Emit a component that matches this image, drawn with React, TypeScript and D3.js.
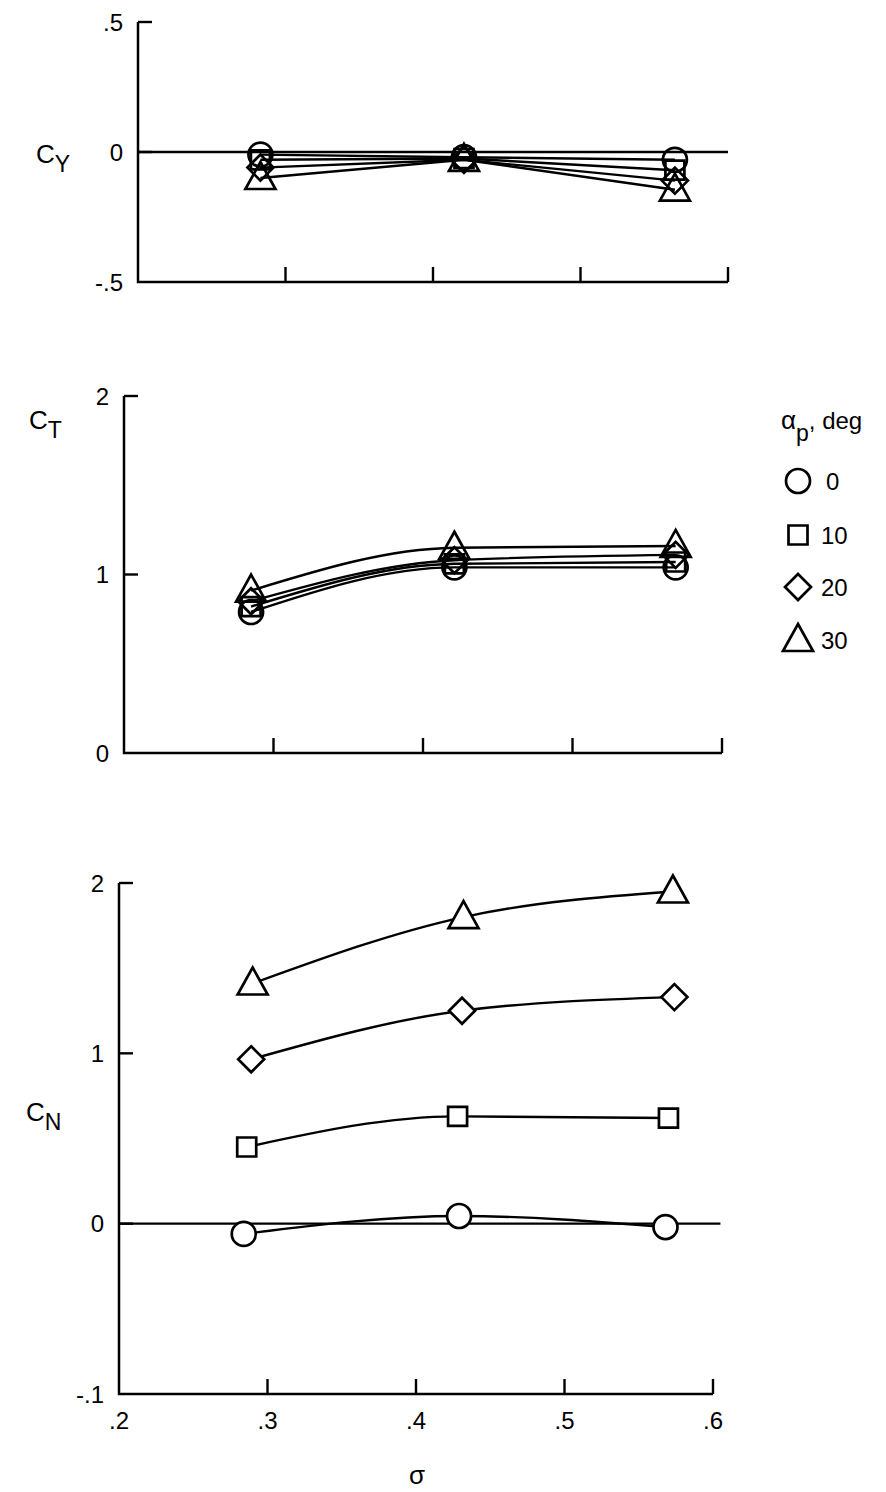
import React from 'react';
import * as d3 from 'd3';

// ---------- data ----------
const seriesLabels = ['0', '10', '20', '30'];
const seriesKinds = ['circle', 'square', 'diamond', 'triangle'];

const xTickValues = [0.2, 0.3, 0.4, 0.5, 0.6];
const xTickLabels = ['.2', '.3', '.4', '.5', '.6'];

// C_Y panel
const sigmaCY = [0.283, 0.421, 0.564];
const cyCircle = [-0.01, -0.02, -0.03];
const cySquare = [-0.03, -0.025, -0.07];
const cyDiamond = [-0.06, -0.03, -0.11];
const cyTriangle = [-0.1, -0.03, -0.145];
const cyTickValues = [-0.5, 0, 0.5];
const cyTickLabels = ['-.5', '0', '.5'];

// C_T panel
const sigmaCT = [0.285, 0.421, 0.569];
const ctCircle = [0.79, 1.04, 1.04];
const ctSquare = [0.82, 1.06, 1.07];
const ctDiamond = [0.85, 1.08, 1.11];
const ctTriangle = [0.91, 1.15, 1.16];
const ctTickValues = [0, 1, 2];
const ctTickLabels = ['0', '1', '2'];

// C_N panel
const sigmaCNCircle = [0.284, 0.429, 0.568];
const sigmaCNSquare = [0.286, 0.428, 0.57];
const sigmaCNDiamond = [0.289, 0.431, 0.574];
const sigmaCNTriangle = [0.29, 0.432, 0.573];
const cnCircle = [-0.06, 0.045, -0.02];
const cnSquare = [0.45, 0.63, 0.62];
const cnDiamond = [0.965, 1.25, 1.33];
const cnTriangle = [1.41, 1.8, 1.95];
const cnTickValues = [-1, 0, 1, 2];
const cnTickLabels = ['-.1', '0', '1', '2'];

// ---------- helpers ----------
const FONT = 'Liberation Sans, Arial, Helvetica, sans-serif';

function markerPath(kind: string, cx: number, cy: number): string {
  const p = d3.path();
  if (kind === 'circle') {
    const r = 12;
    p.moveTo(cx + r, cy);
    p.arc(cx, cy, r, 0, Math.PI * 2);
  } else if (kind === 'square') {
    const h = 9.5;
    p.rect(cx - h, cy - h, 2 * h, 2 * h);
  } else if (kind === 'diamond') {
    const h = 13;
    p.moveTo(cx, cy - h);
    p.lineTo(cx + h, cy);
    p.lineTo(cx, cy + h);
    p.lineTo(cx - h, cy);
    p.closePath();
  } else {
    const w = 15;
    const hTop = 16;
    const hBot = 11;
    p.moveTo(cx, cy - hTop);
    p.lineTo(cx + w, cy + hBot);
    p.lineTo(cx - w, cy + hBot);
    p.closePath();
  }
  return p.toString();
}

interface Series { sigma: number[]; values: number[]; kind: string }
interface Panel {
  key: string;
  yDomain: [number, number];
  yRange: [number, number];
  xRange: [number, number];
  yTicks: number[];
  yLabels: string[];
  showXLabels: boolean;
  curve: d3.CurveFactory;
  fill: string;
  zeroEnd: number;
  series: Series[];
}

const panels: Panel[] = [
  {
    key: 'CY', yDomain: [-0.5, 0.5], yRange: [282, 22], xRange: [138, 728],
    yTicks: cyTickValues, yLabels: cyTickLabels, showXLabels: false,
    curve: d3.curveLinear, fill: 'none', zeroEnd: 0.6,
    series: [
      { sigma: sigmaCY, values: cyCircle, kind: seriesKinds[0] },
      { sigma: sigmaCY, values: cySquare, kind: seriesKinds[1] },
      { sigma: sigmaCY, values: cyDiamond, kind: seriesKinds[2] },
      { sigma: sigmaCY, values: cyTriangle, kind: seriesKinds[3] },
    ],
  },
  {
    key: 'CT', yDomain: [0, 2], yRange: [753, 396], xRange: [124, 722],
    yTicks: ctTickValues, yLabels: ctTickLabels, showXLabels: false,
    curve: d3.curveMonotoneX, fill: 'none', zeroEnd: NaN,
    series: [
      { sigma: sigmaCT, values: ctCircle, kind: seriesKinds[0] },
      { sigma: sigmaCT, values: ctSquare, kind: seriesKinds[1] },
      { sigma: sigmaCT, values: ctDiamond, kind: seriesKinds[2] },
      { sigma: sigmaCT, values: ctTriangle, kind: seriesKinds[3] },
    ],
  },
  {
    key: 'CN', yDomain: [-1, 2], yRange: [1394, 883], xRange: [119, 713],
    yTicks: cnTickValues, yLabels: cnTickLabels, showXLabels: true,
    curve: d3.curveMonotoneX, fill: 'white', zeroEnd: 0.605,
    series: [
      { sigma: sigmaCNCircle, values: cnCircle, kind: seriesKinds[0] },
      { sigma: sigmaCNSquare, values: cnSquare, kind: seriesKinds[1] },
      { sigma: sigmaCNDiamond, values: cnDiamond, kind: seriesKinds[2] },
      { sigma: sigmaCNTriangle, values: cnTriangle, kind: seriesKinds[3] },
    ],
  },
];

function PanelView({ panel }: { panel: Panel }) {
  const x = d3.scaleLinear().domain([0.2, 0.6]).range(panel.xRange);
  const y = d3.scaleLinear().domain(panel.yDomain).range(panel.yRange);
  const x0 = x(0.2);
  const xEnd = x(0.6);
  const yBot = y(panel.yDomain[0]);
  const yTop = y(panel.yDomain[1]);
  const line = d3.line<[number, number]>()
    .x((d) => x(d[0]))
    .y((d) => y(d[1]))
    .curve(panel.curve);
  return (
    <g>
      {/* axes */}
      <path d={`M${x0},${yTop}V${yBot}H${xEnd}`} fill="none" stroke="#000" strokeWidth={2.5} />
      {panel.yTicks.map((t, i) => (
        <g key={`yt${i}`}>
          {t !== panel.yDomain[0] && (
            <line x1={x0} x2={x0 + 14} y1={y(t)} y2={y(t)} stroke="#000" strokeWidth={2.4} />
          )}
          <text x={x0 - 15} y={y(t)} dy="0.36em" textAnchor="end" fontFamily={FONT} fontSize={24}>
            {panel.yLabels[i]}
          </text>
        </g>
      ))}
      {xTickValues.map((t, i) => (
        <g key={`xt${i}`}>
          {i > 0 && (
            <line x1={x(t)} x2={x(t)} y1={yBot} y2={yBot - 15} stroke="#000" strokeWidth={2.4} />
          )}
          {panel.showXLabels && (
            <text x={x(t)} y={yBot + 35} textAnchor="middle" fontFamily={FONT} fontSize={24}>
              {xTickLabels[i]}
            </text>
          )}
        </g>
      ))}
      {/* zero reference line */}
      {!isNaN(panel.zeroEnd) && (
        <line x1={x0} x2={x(panel.zeroEnd)} y1={y(0)} y2={y(0)} stroke="#000" strokeWidth={2.4} />
      )}
      {/* curves */}
      {panel.series.map((s, i) => (
        <path
          key={`l${i}`}
          d={line(s.sigma.map((v, j) => [v, s.values[j]] as [number, number])) || ''}
          fill="none"
          stroke="#000"
          strokeWidth={2.4}
        />
      ))}
      {/* markers */}
      {panel.series.map((s, i) => (
        <g key={`m${i}`}>
          {s.sigma.map((v, j) => (
            <path
              key={j}
              d={markerPath(s.kind, x(v), y(s.values[j]))}
              fill={panel.fill}
              stroke="#000"
              strokeWidth={2.7}
            />
          ))}
        </g>
      ))}
    </g>
  );
}

export default function App() {
  const legendY = [481, 535, 587, 640];
  return (
    <svg
      width={886}
      height={1492}
      viewBox="0 0 886 1492"
      style={{ position: 'absolute', left: 0, top: 0, background: '#fff' }}
    >
      <rect width={886} height={1492} fill="#fff" />
      {panels.map((p) => (
        <PanelView key={p.key} panel={p} />
      ))}

      {/* axis titles */}
      <text x={36} y={163} fontFamily={FONT} fontSize={26}>
        C<tspan fontSize={23} dy={9}>Y</tspan>
      </text>
      <text x={29} y={429} fontFamily={FONT} fontSize={26}>
        C<tspan fontSize={23} dy={9}>T</tspan>
      </text>
      <text x={26} y={1121} fontFamily={FONT} fontSize={26}>
        C<tspan fontSize={23} dy={9}>N</tspan>
      </text>
      <text x={417} y={1484} textAnchor="middle" fontFamily={FONT} fontSize={26}>σ</text>

      {/* legend */}
      <text x={781} y={429} fontFamily={FONT} fontSize={26}>
        α<tspan fontSize={23} dy={12}>p</tspan>
        <tspan fontSize={24} dy={-12}>, deg</tspan>
      </text>
      {seriesKinds.map((k, i) => (
        <g key={k}>
          <path d={markerPath(k, 798, legendY[i])} fill="none" stroke="#000" strokeWidth={2.7} />
          <text x={i === 0 ? 826 : 821} y={legendY[i]} dy="0.36em" fontFamily={FONT} fontSize={24}>
            {seriesLabels[i]}
          </text>
        </g>
      ))}
    </svg>
  );
}
